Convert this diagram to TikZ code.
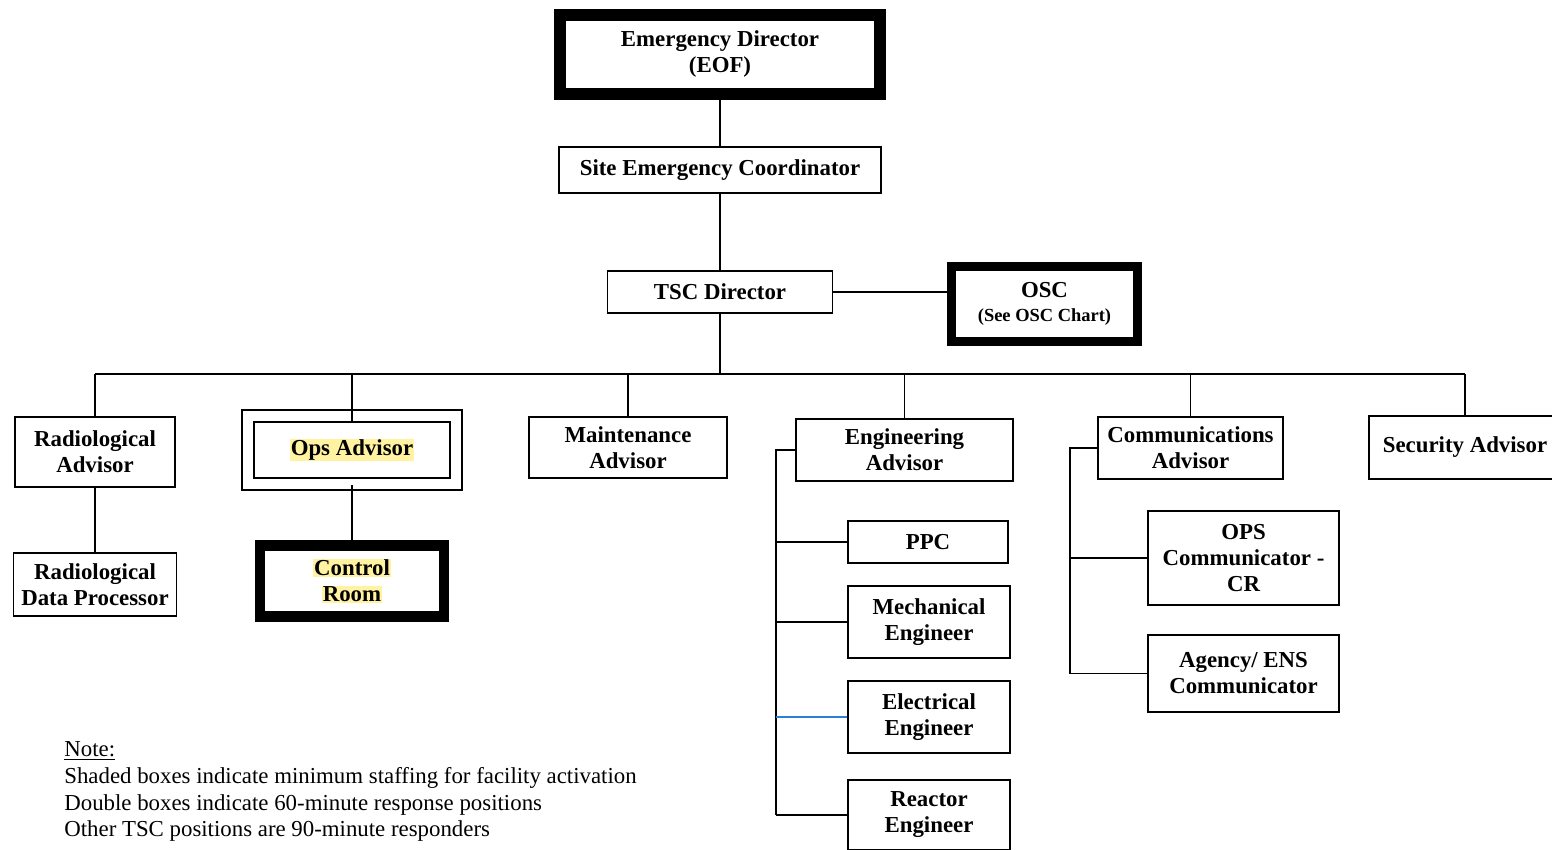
\documentclass[tikz,border=0pt]{standalone}
\usepackage{fontspec}
\setmainfont{Liberation Serif}
\usetikzlibrary{positioning}
\definecolor{hlyellow}{HTML}{FFF2A0}
\definecolor{linkblue}{HTML}{2B7FD6}
\newcommand{\hl}[1]{{\setlength{\fboxsep}{0.6pt}\colorbox{hlyellow}{#1}}}

\begin{document}
\begin{tikzpicture}[x=0.02cm, y=-0.02cm,
    box/.style={draw, line width=1.1pt, fill=white, align=center, inner sep=0pt,
                font=\bfseries\fontsize{13}{14.8}\selectfont},
    heavy/.style={box, line width=#1},
    twin/.style={box, double, double distance=0.2cm},
    link/.style={line width=1.1pt}]
   \useasboundingbox (0,0) rectangle (1552,849);
   \clip (0,0) rectangle (1552,849);
   % top of the chain
   \node(ED)  [heavy=6.8pt, minimum width=6.4cm, minimum height=1.58cm] at (720,54.5) {Emergency Director\\(EOF)};
   \node(SEC) [box, minimum width=6.44cm, minimum height=0.92cm] at (720,170) {Site Emergency Coordinator};
   \node(TSC) [box, minimum width=4.5cm, minimum height=0.84cm] at (720,292) {TSC Director};
   \node(OSC) [heavy=5.1pt, minimum width=3.72cm, minimum height=1.5cm] at (1044.5,304)
        {OSC\\[-1pt]{\fontsize{10.5}{12}\selectfont (See OSC Chart)}};
   % advisors
   \node(RA)  [box, minimum width=3.2cm, minimum height=1.4cm] at (95,452) {Radiological\\Advisor};
   \node(RDP) [box, minimum width=3.26cm, minimum height=1.26cm] at (95,584.5) {Radiological\\Data Processor};
   \node(OA)  [twin, minimum width=4.16cm, minimum height=1.36cm] at (352,450) {\hl{Ops Advisor}};
   \node(CR)  [heavy=6.2pt, minimum width=3.68cm, minimum height=1.42cm] at (352,581) {\hl{Control}\\\hl{Room}};
   \node(MA)  [box, minimum width=3.96cm, minimum height=1.22cm] at (628,447.5) {Maintenance\\Advisor};
   \node(EA)  [box, minimum width=4.34cm, minimum height=1.24cm] at (904.5,450) {Engineering\\Advisor};
   \node(CA)  [box, minimum width=3.7cm, minimum height=1.24cm] at (1190.5,448) {Communications\\Advisor};
   \node(SA)  [box, minimum width=3.84cm, minimum height=1.26cm] at (1465,447.5) {Security Advisor};
   % engineering staff
   \node(PPC) [box, minimum width=3.2cm, minimum height=0.84cm] at (928,542) {PPC};
   \node(ME)  [box, minimum width=3.24cm, minimum height=1.44cm] at (929,622) {Mechanical\\Engineer};
   \node(EE)  [box, minimum width=3.24cm, minimum height=1.44cm] at (929,717) {Electrical\\Engineer};
   \node(RE)  [box, minimum width=3.24cm, minimum height=1.4cm] at (929,815) {Reactor\\Engineer};
   % communicators
   \node(OPC) [box, minimum width=3.82cm, minimum height=1.88cm] at (1243.5,558) {OPS\\Communicator -\\CR};
   \node(AEC) [box, minimum width=3.82cm, minimum height=1.54cm] at (1243.5,673.5) {Agency/ ENS\\Communicator};
   \node(note) [anchor=north west, align=left, inner sep=0pt, font=\fontsize{13}{15.3}\selectfont] at (64,741)
        {\underline{Note:}\\Shaded boxes indicate minimum staffing for facility activation\\
         Double boxes indicate 60-minute response positions\\Other TSC positions are 90-minute responders};
   \coordinate(bus)    at (0,374);
   \coordinate(espine) at (776,0);
   \coordinate(cspine) at (1070,0);
   \draw[link](ED.south) -- (SEC.north);
   \draw[link](SEC.south) -- (TSC.north);
   \draw[link](TSC.south) -- (TSC.south |- bus);
   \draw[link](TSC.east) -- (TSC.east -| OSC.west);
   \draw[link](RA.north |- bus) -- (SA.north |- bus);
   \foreach \n in {RA,MA,EA,CA,SA}
      \draw[link](\n.north |- bus) -- (\n.north);
   \draw[link](OA.north |- bus) -- ([yshift=-0.12cm]OA.north);
   \draw[link](RA.south) -- (RDP.north);
   \draw[link](OA.south) -- (CR.north);
   \draw[link](EA.west) -- (EA.west -| espine) -- (RE.west -| espine);
   \foreach \n in {PPC,ME,RE}
      \draw[link](\n.west -| espine) -- (\n.west);
   \draw[link, linkblue](EE.west -| espine) -- (EE.west);
   \draw[link](CA.west) -- (CA.west -| cspine) -- (AEC.west -| cspine);
   \foreach \n in {OPC,AEC}
      \draw[link](\n.west -| cspine) -- (\n.west);
\end{tikzpicture}
\end{document}
